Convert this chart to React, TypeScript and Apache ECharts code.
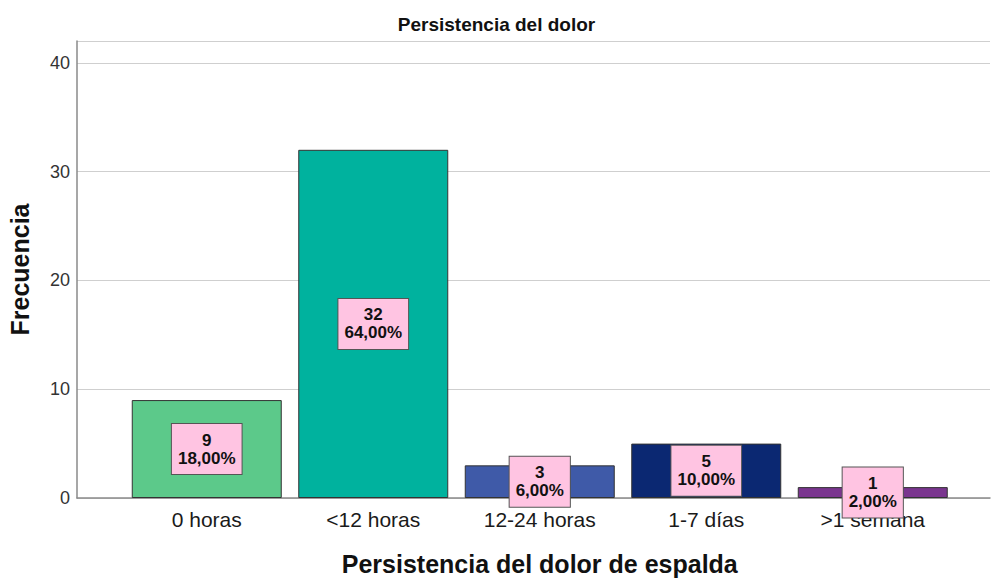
import React, { useEffect, useRef } from "react";
import * as echarts from "echarts";

const categories = ["0 horas", "<12 horas", "12-24 horas", "1-7 días", ">1 semana"];
const frequencies = [9, 32, 3, 5, 1];
const percentLabels = ["18,00%", "64,00%", "6,00%", "10,00%", "2,00%"];
const barColors = ["#5cc98a", "#00b29e", "#3f5aa8", "#0b2872", "#7a358f"];
const yTicks = [0, 10, 20, 30, 40];

const FONT = "'Liberation Sans', Arial, sans-serif";

export default function App() {
  const ref = useRef<HTMLDivElement>(null);
  useEffect(() => {
    if (!ref.current) return;
    const chart = echarts.init(ref.current, undefined, { renderer: "svg" });
    const yMax = 42;
    chart.setOption({
      animation: false,
      backgroundColor: "#ffffff",
      title: {
        text: "Persistencia del dolor",
        left: "center",
        top: 10,
        textStyle: { fontFamily: FONT, fontSize: 19, fontWeight: "bold", color: "#111" },
      },
      grid: [
        { left: 77, right: 3, top: 41, bottom: 81, outerBoundsMode: "none", containLabel: false },
        { left: 123.5, right: 37, top: 41, bottom: 81, outerBoundsMode: "none", containLabel: false },
      ],
      xAxis: [
        {
          gridIndex: 0,
          type: "value",
          min: 0,
          max: 1,
          axisLine: { show: true, lineStyle: { color: "#8a8a8a", width: 1.5 } },
          axisTick: { show: false },
          axisLabel: { show: false },
          splitLine: { show: false },
        },
        {
          gridIndex: 1,
          type: "category",
          data: categories,
          boundaryGap: true,
          axisLine: { show: false },
          axisTick: { show: false },
          axisLabel: {
            fontFamily: FONT,
            fontSize: 21,
            color: "#1a1a1a",
            margin: 11,
          },
          name: "Persistencia del dolor de espalda",
          nameLocation: "middle",
          nameGap: 53,
          nameTextStyle: { fontFamily: FONT, fontSize: 25, fontWeight: "bold", color: "#111" },
        },
      ],
      yAxis: [
        {
          gridIndex: 0,
          type: "value",
          min: 0,
          max: yMax,
          interval: 10,
          axisLine: { show: true, lineStyle: { color: "#8a8a8a", width: 1.5 } },
          axisTick: { show: false },
          axisLabel: {
            fontFamily: FONT,
            fontSize: 18,
            color: "#333",
            margin: 7,
            formatter: (v: number) => (yTicks.includes(v) ? String(v) : ""),
          },
          splitLine: { show: true, lineStyle: { color: "#cfcfcf", width: 1.2 } },
          name: "Frecuencia",
          nameLocation: "middle",
          nameGap: 45,
          nameTextStyle: { fontFamily: FONT, fontSize: 25, fontWeight: "bold", color: "#111" },
        },
        {
          gridIndex: 1,
          type: "value",
          min: 0,
          max: yMax,
          show: false,
        },
      ],
      series: [
        {
          type: "bar",
          xAxisIndex: 1,
          yAxisIndex: 1,
          barWidth: 150,
          data: frequencies.map((v, i) => ({
            value: v,
            itemStyle: { color: barColors[i], borderColor: "#333", borderWidth: 1 },
          })),
          label: {
            show: true,
            position: "inside",
            formatter: (p: any) => `${frequencies[p.dataIndex]}\n${percentLabels[p.dataIndex]}`,
            fontFamily: FONT,
            fontSize: 17,
            fontWeight: "bold",
            lineHeight: 18,
            color: "#111",
            backgroundColor: "#ffc4e2",
            borderColor: "#555",
            borderWidth: 1,
            padding: [7, 6, 7, 6],
            align: "center",
          },
        },
      ],
    });
    return () => chart.dispose();
  }, []);
  return <div ref={ref} style={{ width: 993, height: 579, position: "absolute", left: 0, top: 0 }} />;
}
